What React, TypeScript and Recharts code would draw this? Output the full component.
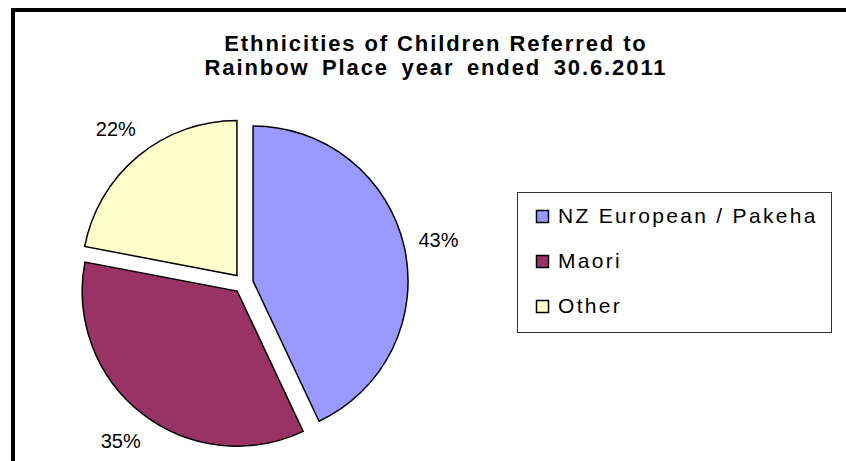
import React from 'react';
import { PieChart, Pie, Cell, Legend } from 'recharts';

// Slice data (Excel-style exploded pie)
const categories = ['NZ European / Pakeha', 'Maori', 'Other'];
const values = [43, 35, 22];
const colors = ['#9999FF', '#993366', '#FFFFCC'];

const titleLines = ['Ethnicities of Children Referred to', 'Rainbow Place year ended 30.6.2011'];

const FONT = '"Liberation Sans", Arial, sans-serif';
const RADIAN = Math.PI / 180;

const CX = 243.3;
const CY = 283.2;
const RADIUS = 155;
const EXPLODE = 10;

const data = categories.map((name, i) => ({ name, value: values[i] }));
const total = values.reduce((a, b) => a + b, 0);

// mid angle of each slice, clockwise from 12 o'clock
const midAngles = values.map((v, i) => {
  const before = values.slice(0, i).reduce((a, b) => a + b, 0);
  return ((before + v / 2) / total) * 360;
});

const renderLegend = () => (
  <svg width={315} height={141} style={{ display: 'block' }}>
    <rect x={0.5} y={0.5} width={314} height={140} fill="#fff" stroke="#333" strokeWidth={1} />
    {categories.map((name, i) => (
      <g key={name}>
        <rect x={19.5} y={18.5 + i * 45} width={12} height={12} fill={colors[i]} stroke="#000" strokeWidth={1.5} />
        <text
          x={41}
          y={31.3 + i * 45}
          fontFamily={FONT}
          fontSize={21}
          letterSpacing={2.3}
          fill="#000"
        >
          {name}
        </text>
      </g>
    ))}
  </svg>
);

export default function App() {
  // one Pie per slice so each can be pulled out along its own mid angle
  const makeLabel = (slice: number) => (props: any) => {
    const { cx, cy, midAngle, outerRadius, percent, index } = props;
    if (index !== slice) return null;
    const r = outerRadius + 35;
    const x = cx + r * Math.cos(-midAngle * RADIAN);
    const y = cy + r * Math.sin(-midAngle * RADIAN);
    return (
      <text
        x={x}
        y={y}
        fill="#000"
        fontFamily={FONT}
        fontSize={20}
        textAnchor="middle"
        dominantBaseline="central"
      >
        {`${Math.round(percent * 100)}%`}
      </text>
    );
  };

  return (
    <div
      style={{
        position: 'absolute',
        left: 0,
        top: 0,
        width: 846,
        height: 461,
        overflow: 'hidden',
        background: '#fff',
      }}
    >
      <div
        style={{
          position: 'absolute',
          left: 11,
          top: 8,
          width: 835,
          height: 453,
          borderLeft: '4px solid #000',
          borderTop: '4px solid #000',
          boxSizing: 'border-box',
        }}
      />
      <PieChart width={846} height={461} margin={{ top: 0, right: 0, bottom: 0, left: 0 }}>
        {values.map((_, s) => {
          const dx = EXPLODE * Math.sin(midAngles[s] * RADIAN);
          const dy = -EXPLODE * Math.cos(midAngles[s] * RADIAN);
          return (
            <Pie
              key={`pie-${s}`}
              data={data}
              dataKey="value"
              nameKey="name"
              cx={CX + dx}
              cy={CY + dy}
              outerRadius={RADIUS}
              startAngle={90}
              endAngle={-270}
              label={makeLabel(s)}
              labelLine={false}
              isAnimationActive={false}
              legendType="none"
            >
              {data.map((entry, i) => (
                <Cell
                  key={`cell-${s}-${i}`}
                  fill={i === s ? colors[i] : 'none'}
                  stroke={i === s ? '#000' : 'none'}
                  strokeWidth={1.5}
                />
              ))}
            </Pie>
          );
        })}
        <Legend
          content={renderLegend}
          wrapperStyle={{ position: 'absolute', left: 517, top: 192, width: 315, height: 141 }}
        />
      </PieChart>
      {titleLines.map((line, i) => (
        <div
          key={line}
          style={{
            position: 'absolute',
            left: 136,
            width: 600,
            top: 32 + i * 23.5,
            lineHeight: '23.5px',
            textAlign: 'center',
            fontFamily: FONT,
            fontWeight: 'bold',
            fontSize: 22,
            letterSpacing: 1.9,
            wordSpacing: i === 1 ? 4.5 : 0,
            color: '#000',
            whiteSpace: 'nowrap',
          }}
        >
          {line}
        </div>
      ))}
    </div>
  );
}
